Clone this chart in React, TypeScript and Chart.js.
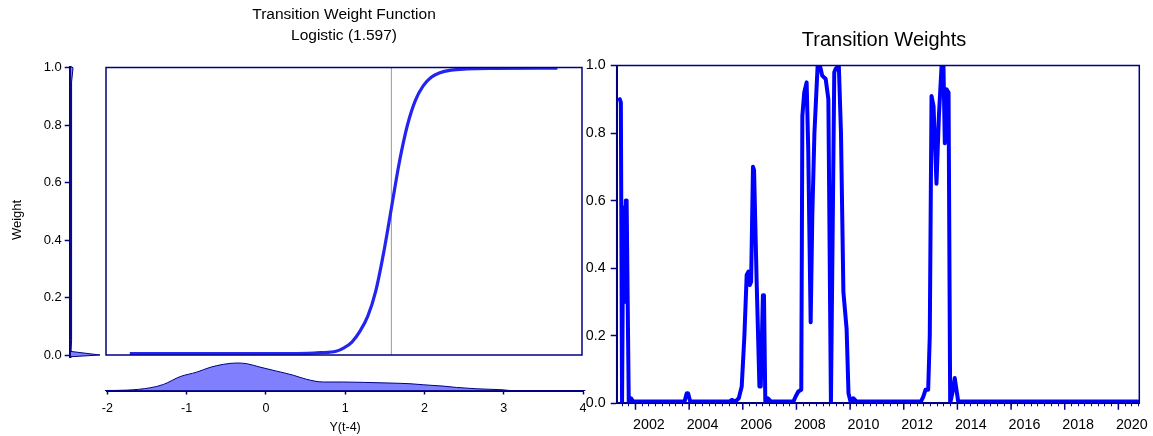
import React, { useEffect, useRef } from 'react';
import { Chart, registerables } from 'chart.js';

Chart.register(...registerables);

const FONT = "'Liberation Sans', Arial, Helvetica, sans-serif";
const NAVY = '#000080';
Chart.defaults.font.family = FONT;
Chart.defaults.color = '#000';

// ---------- Left panel: logistic transition function ----------
const logisticX = [-1.70, 0.40, 0.70, 0.90, 1.00, 1.10, 1.20, 1.30, 1.40, 1.50, 1.60, 1.70, 1.80, 1.90, 2.00, 2.10, 2.20, 2.35, 2.55, 2.90, 3.69];
const logisticWeight = [0.005, 0.005, 0.008, 0.013, 0.025, 0.045, 0.082, 0.135, 0.222, 0.356, 0.515, 0.674, 0.80, 0.886, 0.937, 0.966, 0.981, 0.991, 0.995, 0.997, 0.998];
const thresholdValue = 1.597;
const leftTitle = ['Transition Weight Function', 'Logistic (1.597)'];

// density of Y(t-4) (bottom)
const yDensityX = [-2.03, -1.755, -1.46, -1.29, -1.08, -0.873, -0.705, -0.537, -0.368, -0.242, -0.074, 0.136, 0.346, 0.514, 0.724, 0.976, 1.228, 1.565, 1.817, 1.985, 2.237, 2.406, 2.658, 2.994, 3.08, 4.03];
const yDensity = [0, 0.006, 0.044, 0.1, 0.228, 0.3, 0.378, 0.428, 0.45, 0.439, 0.383, 0.317, 0.25, 0.183, 0.139, 0.139, 0.133, 0.122, 0.111, 0.094, 0.072, 0.05, 0.028, 0.011, 0, 0];

// density of weights (left, vertical)
const weightDensityW = [-0.006, 0, 0.0125, 0.05, 0.95, 1.0, 1.004];
const weightDensity = [0, 1, 0, 0.03, 0.03, 0.08, 0];

// ---------- Right panel: transition weights over time ----------
const tsDates = [
  2001.417, 2001.455, 2001.50, 2001.545, 2001.59, 2001.64, 2001.67, 2001.75, 2001.83, 2001.92,
  2003.83, 2003.91, 2003.96, 2004.04,
  2005.50, 2005.59, 2005.72, 2005.85, 2005.96, 2006.06, 2006.145, 2006.21, 2006.26, 2006.31, 2006.38, 2006.42, 2006.52, 2006.62, 2006.67, 2006.75, 2006.79, 2006.84, 2006.93, 2007.05,
  2007.885, 2007.97, 2008.07, 2008.18, 2008.22, 2008.29, 2008.38, 2008.44, 2008.53, 2008.59, 2008.67, 2008.79, 2008.875, 2008.96, 2009.09, 2009.19, 2009.285, 2009.41, 2009.46, 2009.58, 2009.66, 2009.75, 2009.87, 2009.94, 2010.03, 2010.12, 2010.24,
  2012.64, 2012.73, 2012.81, 2012.91, 2012.97, 2013.035, 2013.11, 2013.22, 2013.31, 2013.41, 2013.48, 2013.53, 2013.59, 2013.67, 2013.73, 2013.81, 2013.90, 2014.03,
  2020.73,
];
const tsWeights = [
  0.90, 0.89, 0.0, 0.58, 0.30, 0.60, 0.60, 0.0, 0.015, 0.005,
  0.005, 0.03, 0.03, 0.005,
  0.005, 0.01, 0.005, 0.015, 0.05, 0.20, 0.38, 0.39, 0.35, 0.36, 0.70, 0.69, 0.35, 0.05, 0.05, 0.32, 0.32, 0.0, 0.015, 0.005,
  0.005, 0.02, 0.035, 0.04, 0.85, 0.92, 0.95, 0.75, 0.24, 0.55, 0.80, 1.0, 1.0, 0.97, 0.96, 0.90, 0.0, 0.98, 0.99, 1.0, 0.80, 0.33, 0.22, 0.03, 0.0, 0.015, 0.005,
  0.005, 0.02, 0.04, 0.04, 0.20, 0.91, 0.88, 0.65, 0.85, 1.0, 1.0, 0.77, 0.93, 0.92, 0.0, 0.03, 0.075, 0.005,
  0.005,
];
const yearLabels = [2002, 2004, 2006, 2008, 2010, 2012, 2014, 2016, 2018, 2020];
const rightTitle = 'Transition Weights';

const framePlugin = (color: string, width: number) => ({
  id: 'frame',
  afterDraw(chart: any) {
    const { ctx, chartArea: a } = chart;
    ctx.save();
    ctx.strokeStyle = color;
    ctx.lineWidth = width;
    ctx.strokeRect(a.left, a.top, a.right - a.left, a.bottom - a.top);
    ctx.restore();
  },
});

const majorTickPlugin = {
  id: 'majorTicks',
  afterDraw(chart: any) {
    const { ctx, chartArea: a } = chart;
    const xs = chart.scales.x;
    ctx.save();
    ctx.strokeStyle = NAVY;
    ctx.lineWidth = 1.5;
    ctx.beginPath();
    for (const y of yearLabels) {
      const px = xs.getPixelForValue(y);
      ctx.moveTo(px, a.bottom);
      ctx.lineTo(px, a.bottom + 6.5);
    }
    ctx.stroke();
    ctx.restore();
  },
};

const hidden = { grid: { display: false }, border: { display: false }, ticks: { display: false } };

function logisticConfig(): any {
  return {
    type: 'line',
    data: {
      datasets: [
        {
          data: logisticX.map((x, i) => ({ x, y: logisticWeight[i] })),
          borderColor: '#2424f0',
          borderWidth: 3.2,
          pointRadius: 0,
          cubicInterpolationMode: 'monotone',
          fill: false,
        },
        {
          data: [{ x: thresholdValue, y: 0 }, { x: thresholdValue, y: 1 }],
          borderColor: '#9a9a9a',
          borderWidth: 1,
          pointRadius: 0,
          fill: false,
        },
      ],
    },
    options: {
      responsive: false,
      animation: false,
      devicePixelRatio: 1,
      events: [],
      layout: { padding: { left: 106, right: 18, top: 0, bottom: 5 } },
      plugins: {
        legend: { display: false },
        tooltip: { enabled: false },
        title: {
          display: true,
          fullSize: false,
          text: leftTitle,
          color: '#000',
          font: { size: 15.5, family: FONT, weight: 'normal', lineHeight: 1.355 },
          padding: { top: 4.5, bottom: 21 },
        },
      },
      scales: {
        x: { type: 'linear', min: -2, max: 4, display: false },
        y: { type: 'linear', min: 0, max: 1, display: false },
      },
    },
    plugins: [framePlugin(NAVY, 1.5)],
  };
}

function weightDensityConfig(): any {
  return {
    type: 'line',
    data: {
      datasets: [
        {
          data: weightDensity.map((d, i) => ({ x: d, y: weightDensityW[i] })),
          borderColor: NAVY,
          borderWidth: 1,
          backgroundColor: '#8080ff',
          fill: 'shape',
          pointRadius: 0,
          tension: 0,
          clip: false,
        },
      ],
    },
    options: {
      responsive: false,
      animation: false,
      devicePixelRatio: 1,
      events: [],
      layout: { padding: { left: 0, right: 4, top: 4, bottom: 0 } },
      plugins: {
        legend: { display: false },
        tooltip: { enabled: false },
        title: {
          display: true,
          position: 'left',
          text: 'Weight',
          color: '#000',
          font: { size: 13, family: FONT, weight: 'normal' },
          padding: { top: 10, bottom: 0 },
        },
      },
      scales: {
        x: { type: 'linear', position: 'bottom', min: 0, max: 1, afterFit: (s: any) => { s.height = 78.7; }, ...hidden },
        x2: { type: 'linear', position: 'top', min: 0, max: 1, afterFit: (s: any) => { s.height = 63.7; }, ...hidden },
        y: {
          type: 'linear',
          position: 'left',
          min: -0.008,
          max: 1,
          afterFit: (s: any) => { s.width = 45.1; },
          border: { display: true, color: NAVY, width: 2.5 },
          grid: { display: true, drawOnChartArea: false, drawTicks: true, tickLength: 6, tickColor: NAVY, tickWidth: 1.5 },
          ticks: {
            stepSize: 0.2,
            includeBounds: false,
            padding: 3,
            color: '#000',
            font: { size: 13, family: FONT },
            callback: (v: any) => Number(v).toFixed(1),
          },
        },
      },
    },
  };
}

function yDensityConfig(): any {
  return {
    type: 'line',
    data: {
      datasets: [
        {
          data: yDensityX.map((x, i) => ({ x, y: yDensity[i] })),
          borderColor: NAVY,
          borderWidth: 1,
          backgroundColor: '#8080ff',
          fill: 'origin',
          pointRadius: 0,
          cubicInterpolationMode: 'monotone',
          clip: false,
        },
      ],
    },
    options: {
      responsive: false,
      animation: false,
      devicePixelRatio: 1,
      events: [],
      layout: { padding: { left: 107.3, right: 17, top: 8, bottom: 0 } },
      plugins: { legend: { display: false }, tooltip: { enabled: false } },
      scales: {
        x: {
          type: 'linear',
          min: -2,
          max: 4,
          afterFit: (s: any) => { s.height = 45.5; },
          border: { display: true, color: NAVY, width: 2 },
          grid: { display: true, drawOnChartArea: false, drawTicks: true, tickLength: 4, tickColor: NAVY, tickWidth: 1.5 },
          ticks: { stepSize: 1, padding: 7, color: '#000', font: { size: 12.5, family: FONT }, maxRotation: 0 },
          title: {
            display: true,
            text: 'Y(t-4)',
            color: '#000',
            font: { size: 12.5, family: FONT },
            padding: { top: 0, bottom: 1.2 },
          },
        },
        y: { type: 'linear', min: 0, max: 0.45, display: false },
      },
    },
  };
}

function timeSeriesConfig(): any {
  return {
    type: 'line',
    data: {
      datasets: [
        {
          data: tsDates.map((d, i) => ({ x: d, y: tsWeights[i] })),
          borderColor: '#0000ff',
          borderWidth: 4,
          pointRadius: 0,
          tension: 0,
          fill: false,
          borderJoinStyle: 'round',
          borderCapStyle: 'round',
        },
      ],
    },
    options: {
      responsive: false,
      animation: false,
      devicePixelRatio: 1,
      events: [],
      layout: { padding: { left: 0, right: 0, top: 0, bottom: 0 } },
      plugins: {
        legend: { display: false },
        tooltip: { enabled: false },
        title: {
          display: true,
          text: rightTitle,
          color: '#000',
          font: { size: 20, family: FONT, weight: 'normal', lineHeight: 1.2 },
          padding: { top: 28.7, bottom: 12.8 },
        },
      },
      scales: {
        x: {
          type: 'linear',
          min: 2001.3,
          max: 2020.78,
          afterFit: (s: any) => { s.height = 32.7; },
          border: { display: true, color: NAVY, width: 2 },
          grid: { display: true, drawOnChartArea: false, drawTicks: true, tickLength: 3, tickColor: NAVY, tickWidth: 1 },
          ticks: {
            stepSize: 0.25,
            includeBounds: false,
            autoSkip: false,
            maxRotation: 0,
            minRotation: 0,
            padding: 10,
            color: '#000',
            font: { size: 14.3, family: FONT },
            callback: (v: any) => {
              const val = Number(v);
              const yr = Math.round(val - 0.5);
              if (Math.abs(val - (yr + 0.5)) < 1e-6 && yearLabels.includes(yr)) return String(yr);
              return '';
            },
          },
        },
        y: {
          type: 'linear',
          position: 'left',
          min: 0,
          max: 1,
          afterFit: (s: any) => { s.width = 41.7; },
          border: { display: true, color: NAVY, width: 2 },
          grid: { display: true, drawOnChartArea: false, drawTicks: true, tickLength: 6, tickColor: NAVY, tickWidth: 1.5 },
          ticks: {
            stepSize: 0.2,
            padding: 5,
            color: '#000',
            font: { size: 14.3, family: FONT },
            callback: (v: any) => Number(v).toFixed(1),
          },
        },
        y2: {
          type: 'linear',
          position: 'right',
          min: 0,
          max: 1,
          afterFit: (s: any) => { s.width = 53.7; },
          ...hidden,
        },
      },
    },
    plugins: [framePlugin(NAVY, 1.5), majorTickPlugin],
  };
}

function useChart(ref: React.RefObject<HTMLCanvasElement | null>, make: () => any) {
  useEffect(() => {
    const canvas = ref.current;
    if (!canvas) return;
    const chart = new Chart(canvas, make());
    return () => chart.destroy();
  }, []);
}

function Canvas({ r, left, top, width, height }: any) {
  return (
    <canvas
      ref={r}
      width={width}
      height={height}
      style={{ position: 'absolute', left, top, width, height, display: 'block' }}
    />
  );
}

export default function App() {
  const aRef = useRef<HTMLCanvasElement>(null);
  const bRef = useRef<HTMLCanvasElement>(null);
  const cRef = useRef<HTMLCanvasElement>(null);
  const dRef = useRef<HTMLCanvasElement>(null);

  useChart(aRef, logisticConfig);
  useChart(bRef, weightDensityConfig);
  useChart(cRef, yDensityConfig);
  useChart(dRef, timeSeriesConfig);

  return (
    <div style={{ position: 'fixed', left: 0, top: 0, width: 1153, height: 436, background: '#fff', overflow: 'hidden' }}>
      <Canvas r={bRef} left={0} top={0} width={104} height={436} />
      <Canvas r={aRef} left={0} top={0} width={600} height={360} />
      <Canvas r={cRef} left={0} top={355} width={600} height={81} />
      <Canvas r={dRef} left={575} top={0} width={618} height={436} />
    </div>
  );
}
